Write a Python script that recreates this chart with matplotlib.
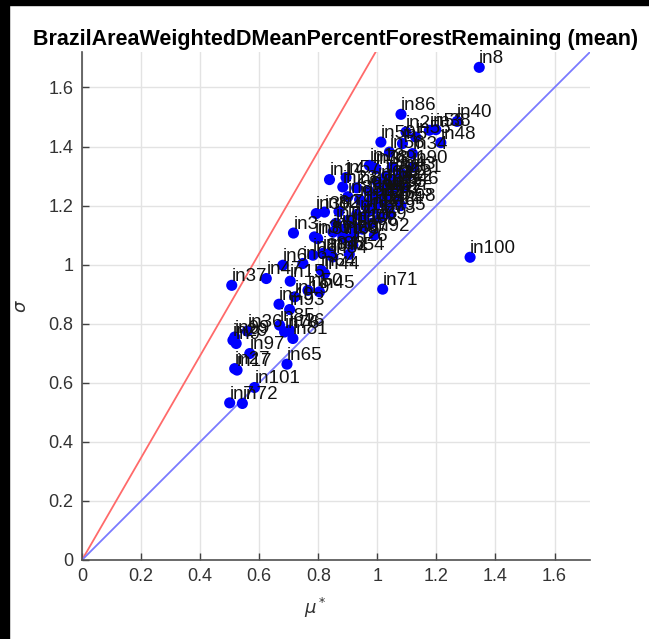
import numpy as np
import matplotlib.pyplot as plt
from matplotlib.patches import Rectangle

# Морис: mu* против sigma для каждого входа
names = ['in8', 'in86', 'in40', 'in38', 'in48', 'in59', 'in2', 'in55', 'in53', 'in5',
         'in34', 'in56', 'in13', 'in33', 'in14', 'in57', 'in78', 'in23', 'in39', 'in82',
         'in30', 'in88', 'in3', 'in87', 'in6', 'in63', 'in80', 'in94', 'in84', 'in64',
         'in44', 'in47', 'in15', 'in50', 'in45', 'in19', 'in49', 'in93', 'in26', 'in71',
         'in70', 'in37', 'in85', 'in16', 'in81', 'in76', 'in29', 'in9', 'in99', 'in97',
         'in27', 'in17', 'in65', 'in101', 'in7', 'in72', 'in100', 'in36',
         'in1', 'in4', 'in10', 'in11', 'in12', 'in18', 'in20', 'in21', 'in22', 'in24',
         'in25', 'in28', 'in31', 'in32', 'in35', 'in41', 'in42', 'in43', 'in46', 'in51',
         'in52', 'in54', 'in58', 'in60', 'in61', 'in62', 'in66', 'in67', 'in68', 'in69',
         'in73', 'in74', 'in75', 'in77', 'in79', 'in83', 'in89', 'in90', 'in91', 'in92',
         'in95', 'in96', 'in98']

mu_star = [1.345, 1.080, 1.270, 1.198, 1.215, 1.012, 1.097, 1.130, 1.176, 1.085,
           1.119, 1.041, 0.973, 0.995, 0.838, 0.894, 0.984, 0.883, 0.793, 0.821,
           0.787, 0.838, 0.716, 0.798, 0.680, 0.748, 0.782, 0.815, 0.849, 0.810,
           0.821, 0.624, 0.705, 0.765, 0.804, 0.720, 0.667, 0.703, 0.917, 1.018,
           0.883, 0.507, 0.669, 0.703, 0.714, 0.686, 0.511, 0.522, 0.517, 0.568,
           0.517, 0.525, 0.694, 0.584, 0.500, 0.543, 1.314, 0.560,
           0.880, 0.900, 0.920, 0.930, 0.950, 0.960, 0.970, 0.980, 0.990, 1.000,
           1.010, 1.020, 1.030, 1.040, 1.050, 1.060, 1.070, 1.080, 1.090, 1.100,
           1.035, 0.905, 0.940, 0.970, 1.000, 1.030, 0.890, 0.920, 0.950, 0.980,
           1.010, 1.040, 1.070, 0.860, 0.870, 0.900, 0.930, 1.120, 1.050, 0.990,
           1.045, 0.850, 1.080]

sigma = [1.668, 1.509, 1.485, 1.457, 1.413, 1.415, 1.449, 1.432, 1.455, 1.410,
         1.376, 1.381, 1.336, 1.325, 1.288, 1.295, 1.331, 1.263, 1.173, 1.178,
         1.094, 1.038, 1.107, 1.088, 0.998, 1.004, 1.032, 1.038, 1.026, 0.981,
         0.970, 0.953, 0.944, 0.913, 0.908, 0.891, 0.866, 0.848, 1.066, 0.917,
         1.094, 0.930, 0.795, 0.778, 0.750, 0.772, 0.744, 0.733, 0.755, 0.699,
         0.648, 0.643, 0.663, 0.584, 0.532, 0.530, 1.025, 0.775,
         1.120, 1.150, 1.130, 1.170, 1.160, 1.200, 1.180, 1.220, 1.190, 1.240,
         1.210, 1.260, 1.230, 1.280, 1.250, 1.290, 1.270, 1.310, 1.260, 1.300,
         1.240, 1.035, 1.220, 1.250, 1.280, 1.300, 1.090, 1.100, 1.120, 1.140,
         1.160, 1.190, 1.220, 1.140, 1.180, 1.230, 1.260, 1.330, 1.330, 1.100,
         1.170, 1.110, 1.200]

# наклоны опорных линий
red_slope = 1.73
blue_slope = 1.0

ticks = [0, 0.2, 0.4, 0.6, 0.8, 1.0, 1.2, 1.4, 1.6]
tick_labels = ['0', '0.2', '0.4', '0.6', '0.8', '1', '1.2', '1.4', '1.6']
lim = 1.72

plt.rcParams['font.family'] = ['Liberation Sans', 'DejaVu Sans']
plt.rcParams['mathtext.fontset'] = 'dejavusans'

fig = plt.figure(figsize=(6.49, 6.39), dpi=100)
ax = fig.add_axes([82 / 649, 79 / 639, 508 / 649, 508 / 639])

# опорные линии
xs = np.array([0, 2])
ax.plot(xs, red_slope * xs, color='#ff6a6a', lw=1.3, zorder=2)
ax.plot(xs, blue_slope * xs, color='#7a7aff', lw=1.3, zorder=2)

# точки и подписи
ax.scatter(mu_star, sigma, s=64, color='#0000ff', edgecolors='none', zorder=3)
for n, x, y in zip(names, mu_star, sigma):
    ax.annotate(n, (x, y), xytext=(0, 3), textcoords='offset points',
                ha='left', va='baseline', fontsize=13.5, color='#111111', zorder=4,
                annotation_clip=False)

ax.set_xlim(0, lim)
ax.set_ylim(0, lim)
ax.set_xticks(ticks)
ax.set_yticks(ticks)
ax.set_xticklabels(tick_labels)
ax.set_yticklabels(tick_labels)
ax.tick_params(direction='in', length=5, width=1, color='#404040',
               labelsize=13, labelcolor='#333333', pad=6)
ax.grid(True, color='#e3e3e3', lw=1)
ax.set_axisbelow(True)
for side in ['top', 'right']:
    ax.spines[side].set_visible(False)
for side in ['left', 'bottom']:
    ax.spines[side].set_color('#505050')
    ax.spines[side].set_linewidth(1.2)

ax.set_title('BrazilAreaWeightedDMeanPercentForestRemaining (mean)',
             fontsize=15.5, fontweight='bold', pad=5)
ax.set_xlabel(r'$\mu^*$', fontsize=13, color='#333333')
ax.set_ylabel(r'$\sigma$', fontsize=13, color='#333333')
ax.xaxis.set_label_coords(0.46, -0.07)
ax.yaxis.set_label_coords(-0.102, 0.5)

# чёрная рамка слева и сверху
fig.patches.append(Rectangle((0, 0), 9 / 649, 1, transform=fig.transFigure,
                             color='black', zorder=10))
fig.patches.append(Rectangle((0, 1 - 5 / 639), 1, 5 / 639, transform=fig.transFigure,
                             color='black', zorder=10))

plt.savefig('out.png', dpi=100)
